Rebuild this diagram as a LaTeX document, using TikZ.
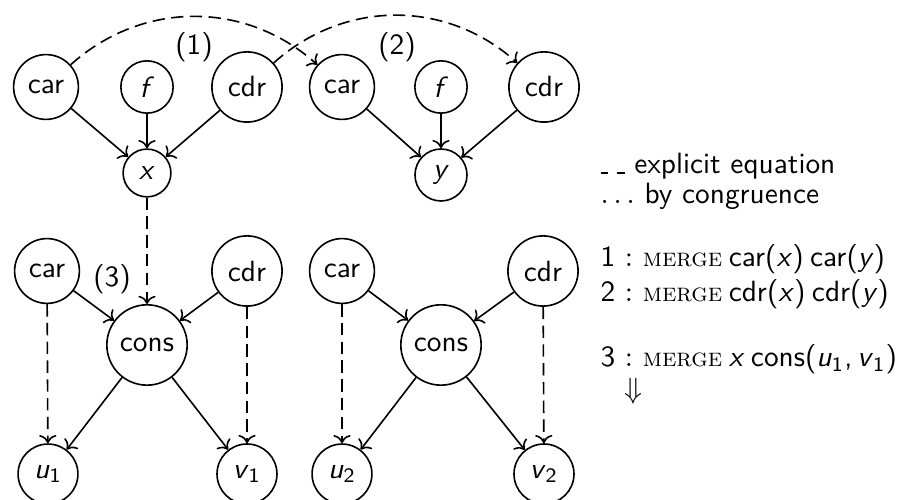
\documentclass[tikz,border=0pt]{standalone}
\usepackage{amsmath}
\usetikzlibrary{arrows.meta}
% sans italic variables and subscripted variables
\newcommand\sv[1]{\textit{#1}}
\newcommand\svs[2]{\textit{#1}\textsubscript{#2}}
\newcommand\mergeop{{\fontsize{8.8pt}{10pt}\selectfont\textrm{\textsc{merge}}}}
\newcommand\gap{\hspace{2.2pt}}
% short dashes standing for an explicit equation
\newcommand\dashsym{\rule{2.6pt}{0.6pt}\hspace{3pt}\rule{2.6pt}{0.6pt}}
\begin{document}
\begin{tikzpicture}[x=0.341pt,y=-0.341pt,
  every node/.style={font=\sffamily},
  vtx/.style={draw, circle, inner sep=3.3pt, line width=0.55pt},
  arr/.style={->, line width=0.55pt},
  eqd/.style={->, line width=0.55pt, dash pattern=on 4.2pt off 2.2pt},
  legend/.style={anchor=base west, inner sep=0pt}]
\useasboundingbox (0,0) rectangle (899,500);

% upper graphs
\node[vtx] (car1) at (46,87) {car};
\node[vtx] (f1)   at (147,87) {\sv{f}};
\node[vtx] (cdr1) at (247,87) {cdr};
\node[vtx] (x)    at (147,173) {\sv{x}};
\node[vtx] (car2) at (342,87) {car};
\node[vtx] (f2)   at (441,87) {\sv{f}};
\node[vtx] (cdr2) at (544,87) {cdr};
\node[vtx] (y)    at (441,175) {\sv{y}};

% lower graphs
\node[vtx] (car3)  at (47,271) {car};
\node[vtx] (cdr3)  at (247,271) {cdr};
\node[vtx] (cons1) at (147,345) {cons};
\node[vtx] (u1)    at (48,474) {\svs{u}{1}};
\node[vtx] (v1)    at (247,474) {\svs{v}{1}};
\node[vtx] (car4)  at (342,271) {car};
\node[vtx] (cdr4)  at (543,271) {cdr};
\node[vtx] (cons2) at (441,345) {cons};
\node[vtx] (u2)    at (342,474) {\svs{u}{2}};
\node[vtx] (v2)    at (544,474) {\svs{v}{2}};

% step labels
\node (l1) at (194,47) {(1)};
\node (l2) at (397,47) {(2)};
\node (l3) at (112,279) {(3)};

% term edges
\draw[arr] (car1) -- (x);
\draw[arr] (f1) -- (x);
\draw[arr] (cdr1) -- (x);
\draw[arr] (car2) -- (y);
\draw[arr] (f2) -- (y);
\draw[arr] (cdr2) -- (y);
\draw[arr] (car3) -- (cons1);
\draw[arr] (cdr3) -- (cons1);
\draw[arr] (cons1) -- (u1);
\draw[arr] (cons1) -- (v1);
\draw[arr] (car4) -- (cons2);
\draw[arr] (cdr4) -- (cons2);
\draw[arr] (cons2) -- (u2);
\draw[arr] (cons2) -- (v2);

% equations
\draw[eqd] (car1) to[bend left=42] (car2);
\draw[eqd] (cdr1) to[bend left=42] (cdr2);
\draw[eqd] (x) -- (cons1);
\draw[eqd] (car3) -- (u1);
\draw[eqd] (cdr3) -- (v1);
\draw[eqd] (car4) -- (u2);
\draw[eqd] (cdr4) -- (v2);

% legend
\node[legend] (k1) at (600,174) {\dashsym{} explicit equation};
\node[legend] (k2) at (600,204) {$\ldots$ by congruence};
\node[legend] (m1) at (600,267) {1\hspace{3.3pt}{\rmfamily:}\hspace{3.3pt}\mergeop\gap car(\sv{x})\gap car(\sv{y})};
\node[legend] (m2) at (600,302) {2\hspace{3.3pt}{\rmfamily:}\hspace{3.3pt}\mergeop\gap cdr(\sv{x})\gap cdr(\sv{y})};
\node[legend] (m3) at (600,367) {3\hspace{3.3pt}{\rmfamily:}\hspace{3.3pt}\mergeop\gap\sv{x}\gap cons(\svs{u}{1},\,\svs{v}{1})};
\node[inner sep=0pt] (dn) at (633,391) {$\Downarrow$};
\end{tikzpicture}
\end{document}
